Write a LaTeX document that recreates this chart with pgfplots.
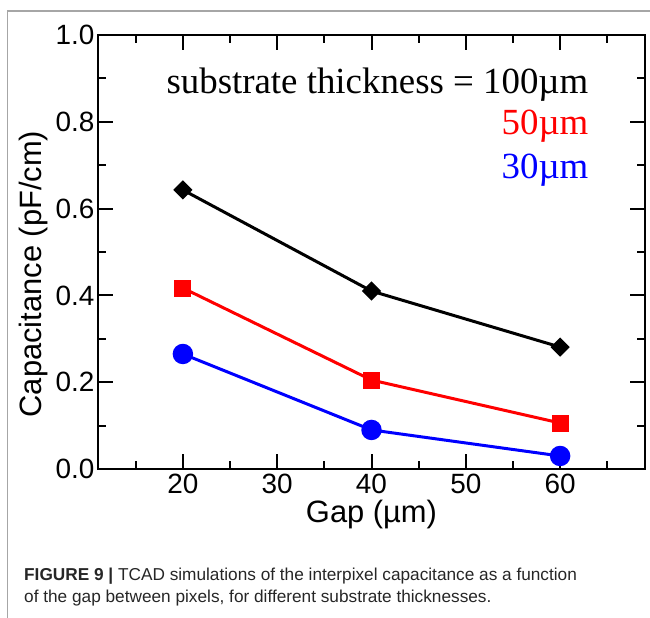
\documentclass[border=0pt]{standalone}
\usepackage{fontspec}
\setmainfont{Liberation Sans}
\newfontfamily\timesfont{Liberation Serif}
\usepackage{pgfplots}
\pgfplotsset{compat=1.18}
\begin{document}
\begin{tikzpicture}
\useasboundingbox (0,0) rectangle (650bp,-618bp);
% frame of the figure panel
\draw[gray!70, line width=1.2bp] (650bp,-11bp) -- (7.5bp,-11bp) -- (7.5bp,-618bp);
\begin{axis}[
    at={(98bp,-469bp)}, anchor=south west,
    scale only axis,
    width=547bp, height=434bp,
    xmin=11, xmax=69,
    ymin=0, ymax=1,
    xtick={20,30,...,60},
    minor xtick={15,25,...,65},
    ytick={0,0.2,...,1.0},
    minor ytick={0.1,0.3,...,0.9},
    tick align=inside,
    major tick length=15bp,
    minor tick length=8bp,
    axis line style={line width=2bp},
    every tick/.style={line width=2bp, black},
    /pgf/number format/assume math mode=true,
    yticklabel style={/pgf/number format/fixed,
        /pgf/number format/fixed zerofill,
        /pgf/number format/precision=1, xshift=0bp},
    tick label style={font=\fontsize{28}{30}\selectfont},
    xticklabel style={yshift=-1bp},
    label style={font=\fontsize{31}{33}\selectfont},
    xlabel={Gap (µm)},
    ylabel={Capacitance (pF/cm)},
    xlabel style={at={(axis description cs:0.5,-0.106)}, anchor=center},
    ylabel style={at={(axis description cs:-0.117,0.449)}, anchor=center},
]

% 100 um
\addplot[black, line width=3bp, mark=square*, mark size=5.3bp,
    mark options={rotate=45, solid}] coordinates {
    (20,0.643) (40,0.410) (60,0.281)};

% 50 um
\addplot[red, line width=3bp, mark=square*, mark size=7bp] coordinates {
    (20,0.417) (40,0.205) (60,0.106)};

% 30 um
\addplot[blue, line width=3bp, mark=*, mark size=8.7bp] coordinates {
    (20,0.265) (40,0.090) (60,0.030)};

\node[anchor=base east, font=\timesfont\fontsize{37}{39}\selectfont, black]
    at (rel axis cs:0.903,0.866) {substrate thickness = 100µm};
\node[anchor=base east, font=\timesfont\fontsize{37}{39}\selectfont, red]
    at (rel axis cs:0.903,0.770) {50µm};
\node[anchor=base east, font=\timesfont\fontsize{37}{39}\selectfont, blue]
    at (rel axis cs:0.903,0.670) {30µm};
\end{axis}

% caption
\node[anchor=base west, inner sep=0pt, text=black!85, font=\fontsize{17.3}{20}\selectfont]
    at (24bp,-580bp) {\textbf{FIGURE 9 |} TCAD simulations of the interpixel capacitance as a function};
\node[anchor=base west, inner sep=0pt, text=black!85, font=\fontsize{17.3}{20}\selectfont]
    at (24bp,-602bp) {of the gap between pixels, for different substrate thicknesses.};
\end{tikzpicture}
\end{document}
